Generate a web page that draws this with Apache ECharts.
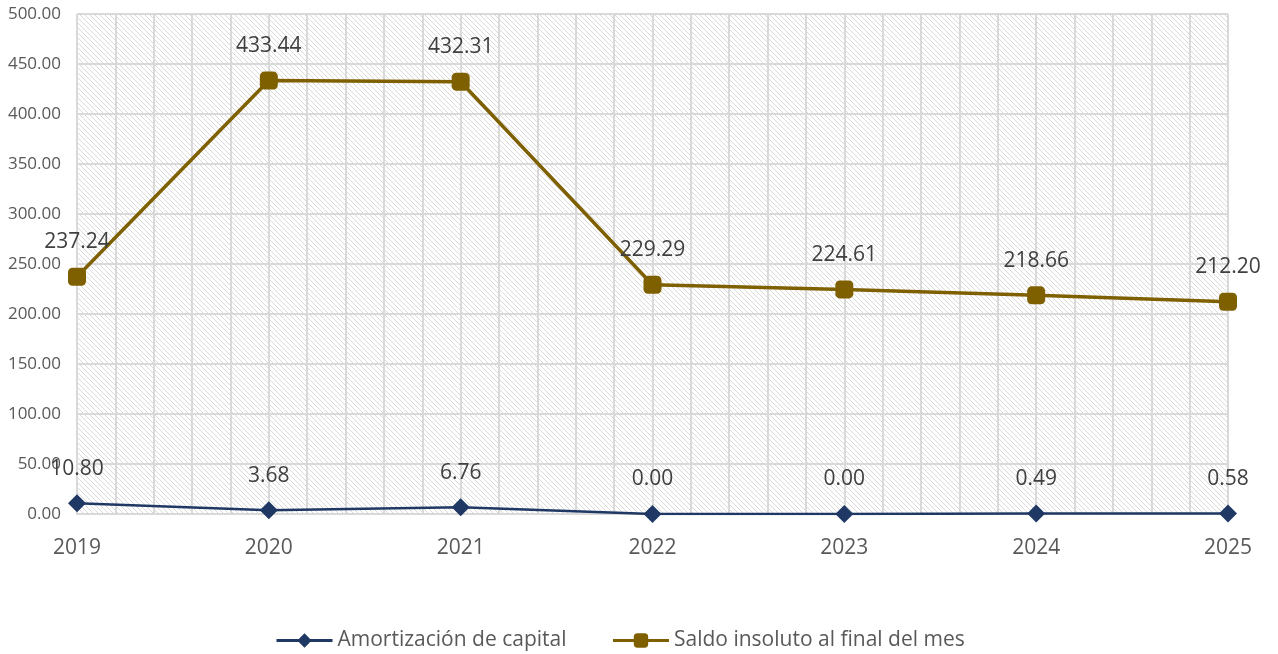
<!DOCTYPE html>
<html><head><meta charset="utf-8">
<script src="https://cdn.jsdelivr.net/npm/echarts@6/dist/echarts.min.js"></script>
<style>html,body{margin:0;padding:0;background:#fff}#c{width:1278px;height:654px}</style>
</head><body><div id="c"></div>
<script>
const categories = ['2019','2020','2021','2022','2023','2024','2025'];
const amortizacion = [10.80, 3.68, 6.76, 0.00, 0.00, 0.49, 0.58];
const saldo = [237.24, 433.44, 432.31, 229.29, 224.61, 218.66, 212.20];
const seriesNames = ['Amortización de capital', 'Saldo insoluto al final del mes'];

const FONT = "'Open Sans', 'Noto Sans', sans-serif";
// hatch pattern
const pc = document.createElement('canvas');
pc.width = 5; pc.height = 5;
const g = pc.getContext('2d');
g.fillStyle = '#ffffff'; g.fillRect(0,0,5,5);
g.strokeStyle = '#dadada'; g.lineWidth = 1;
g.beginPath();
g.moveTo(-1,-1); g.lineTo(6,6);
g.moveTo(-1,4); g.lineTo(1,6);
g.moveTo(4,-1); g.lineTo(6,1);
g.stroke();

const chart = echarts.init(document.getElementById('c'), null, {renderer:'canvas'});
const labelStyle = {show:true, position:'top', distance:15, color:'#404040', fontSize:21, fontFamily:FONT,
  formatter: p => p.value.toFixed(2)};
chart.setOption({
  animation:false,
  textStyle:{fontFamily:FONT},
  grid:{left:77, right:50, top:14, bottom:140, show:true, borderWidth:0,
    backgroundColor:{image:pc, repeat:'repeat'}},
  legend:{top:625, left:270, itemWidth:56, itemHeight:18, itemGap:45,
    textStyle:{fontSize:21, color:'#595959', fontFamily:FONT},
    lineStyle:{width:3},
    data: seriesNames},
  xAxis:[{type:'category', data:categories, boundaryGap:false,
    axisLine:{lineStyle:{color:'#d9d9d9', width:2}}, axisTick:{show:false},
    axisLabel:{color:'#595959', fontSize:21, margin:24, fontFamily:FONT},
    splitLine:{show:false}},
    {type:'value', min:0, max:30, interval:1, show:true, position:'bottom',
     axisLine:{show:false}, axisTick:{show:false}, axisLabel:{show:false},
     splitLine:{show:true, lineStyle:{color:'#d9d9d9', width:2}}}],
  yAxis:{type:'value', min:0, max:500, interval:50,
    axisLine:{show:false}, axisTick:{show:false},
    axisLabel:{color:'#595959', fontSize:17, margin:16, fontFamily:FONT, formatter:v=>v.toFixed(2)},
    splitLine:{lineStyle:{color:'#d9d9d9', width:2}}},
  series:[
    {name:seriesNames[0], type:'line', data:amortizacion, xAxisIndex:0,
     symbol:'diamond', symbolSize:18, showAllSymbol:true,
     itemStyle:{color:'#1F3864'}, lineStyle:{color:'#1F3864', width:2.5}, label:labelStyle, z:5},
    {name:seriesNames[1], type:'line', data:saldo, xAxisIndex:0,
     symbol:'roundRect', symbolSize:18, showAllSymbol:true,
     itemStyle:{color:'#7F6000'}, lineStyle:{color:'#7F6000', width:3.5}, label:labelStyle, z:5}
  ]
});
</script></body></html>
